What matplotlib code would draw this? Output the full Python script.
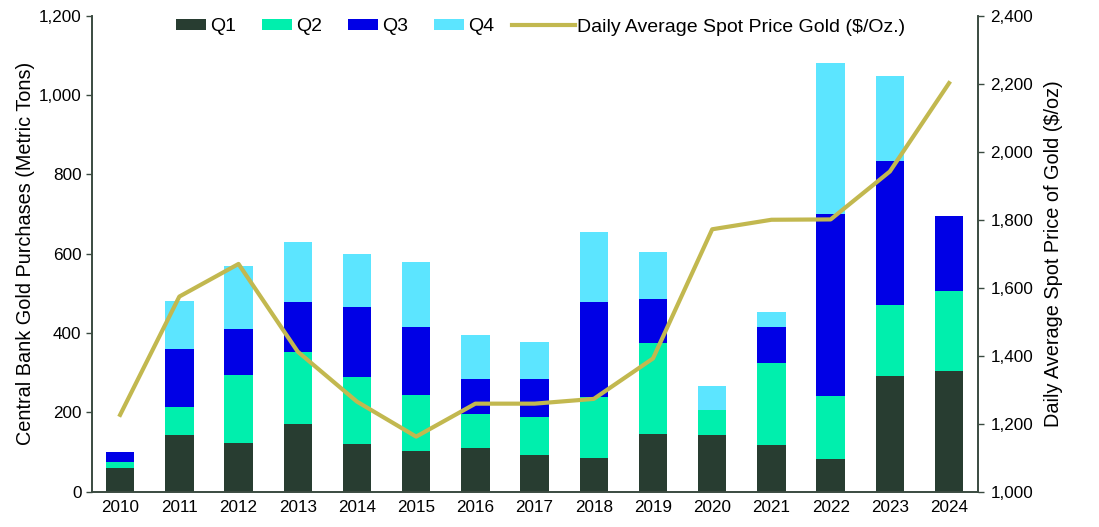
import numpy as np
import matplotlib.pyplot as plt
from matplotlib.ticker import FuncFormatter

plt.rcParams['font.family'] = ['Liberation Sans', 'DejaVu Sans']

# data
years = ['2010', '2011', '2012', '2013', '2014', '2015', '2016', '2017',
         '2018', '2019', '2020', '2021', '2022', '2023', '2024']
q1 = [61, 142, 124, 170, 119, 103, 111, 93, 84, 146, 142, 118, 82, 291, 305]
q2 = [13, 71, 169, 182, 170, 142, 85, 95, 154, 229, 65, 207, 159, 179, 202]
q3 = [25, 147, 117, 127, 176, 171, 88, 96, 241, 112, 0, 91, 459, 363, 187]
q4 = [0, 121, 159, 150, 135, 163, 112, 94, 176, 118, 60, 36, 381, 215, 0]
gold = [1226, 1574, 1670, 1412, 1265, 1162, 1259, 1259, 1273, 1392,
        1772, 1800, 1801, 1942, 2202]

colors = ['#283d31', '#00efad', '#0000e6', '#5ce5ff']
line_color = '#c2b84f'
spine_color = '#3a4a40'

fig = plt.figure(figsize=(10.99, 5.27), dpi=100)
ax = fig.add_axes([0.0837, 0.067, 0.806, 0.903])
ax2 = ax.twinx()

x = np.arange(len(years))
bottom = np.zeros(len(years))
for vals, c, lab in zip([q1, q2, q3, q4], colors, ['Q1', 'Q2', 'Q3', 'Q4']):
    ax.bar(x, vals, width=0.48, bottom=bottom, color=c, label=lab, zorder=2)
    bottom += np.array(vals)

ax2.plot(x, gold, color=line_color, lw=3, label='Daily Average Spot Price Gold ($/Oz.)', zorder=3)

ax.set_xlim(-0.475, 14.485)
ax.set_ylim(0, 1200)
ax2.set_ylim(1000, 2400)
ax.set_yticks(np.arange(0, 1201, 200))
ax2.set_yticks(np.arange(1000, 2401, 200))
fmt = FuncFormatter(lambda v, p: f'{int(v):,}')
ax.yaxis.set_major_formatter(fmt)
ax2.yaxis.set_major_formatter(fmt)
ax.set_xticks(x)
ax.set_xticklabels(years)

for a in (ax, ax2):
    a.spines['top'].set_visible(False)
    for s in ('left', 'right', 'bottom'):
        a.spines[s].set_color(spine_color)
        a.spines[s].set_linewidth(1.2)
    a.tick_params(axis='y', labelsize=12.3, length=4, color=spine_color, width=1)
ax.tick_params(axis='x', length=0, labelsize=12.3, pad=6)
ax2.tick_params(axis='y', pad=5)

ax.set_ylabel('Central Bank Gold Purchases (Metric Tons)', fontsize=14.3, labelpad=3)
ax2.set_ylabel('Daily Average Spot Price of Gold ($/oz)', fontsize=14.3, labelpad=8)

# two legends so the line handle can be longer than the bar patches
h1, l1 = ax.get_legend_handles_labels()
h2, l2 = ax2.get_legend_handles_labels()
fig.legend(h1, l1, ncol=4, frameon=False, loc='center left',
           bbox_to_anchor=(0.160, 0.949), fontsize=14, handlelength=1.55,
           handleheight=0.45, columnspacing=1.34, handletextpad=0.2,
           borderpad=0, borderaxespad=0)
fig.legend(h2, l2, frameon=False, loc='center left',
           bbox_to_anchor=(0.466, 0.949), fontsize=14, handlelength=3.25,
           handletextpad=0.08, borderpad=0, borderaxespad=0)

fig.savefig('out.png', dpi=100)
